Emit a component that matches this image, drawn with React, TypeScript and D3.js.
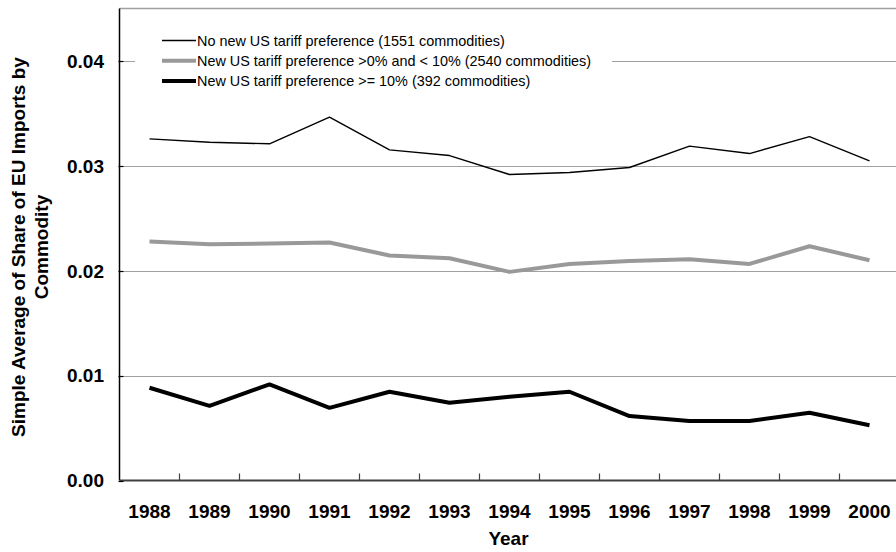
import React from "react";
import * as d3 from "d3";

const years = ["1988","1989","1990","1991","1992","1993","1994","1995","1996","1997","1998","1999","2000"];
const noPref = [0.03257,0.03225,0.0321,0.03464,0.03152,0.03098,0.02917,0.02936,0.02984,0.03188,0.03117,0.03279,0.03048];
const smallPref = [0.02278,0.02252,0.02259,0.02269,0.02145,0.02119,0.01989,0.02065,0.02093,0.0211,0.02065,0.02233,0.021];
const bigPref = [0.00884,0.00712,0.00916,0.00693,0.00846,0.00741,0.00798,0.00846,0.00614,0.00567,0.00567,0.00646,0.00526];
const yTicks = [0, 0.01, 0.02, 0.03, 0.04];
const yTickLabels = ["0.00", "0.01", "0.02", "0.03", "0.04"];
const legendLabels = [
  "No new US tariff preference (1551 commodities)",
  "New US tariff preference >0% and < 10% (2540 commodities)",
  "New US tariff preference >= 10% (392 commodities)",
];

const W = 896, H = 552;
const L = 119.5, R = 899.5, T = 8.5, B = 480.5;
const FONT = "'Liberation Sans', Arial, Helvetica, sans-serif";

export default function App() {
  const x = d3.scaleBand<string>().domain(years).range([L, R]).padding(0);
  const y = d3.scaleLinear().domain([0, 0.045]).range([B, T]);
  const cx = (d: string) => (x(d) as number) + x.bandwidth() / 2;
  const line = d3.line<number>().x((_, i) => cx(years[i])).y((v) => y(v));
  const series = [
    { data: noPref, color: "#000000", width: 1.4 },
    { data: smallPref, color: "#999999", width: 4 },
    { data: bigPref, color: "#000000", width: 4 },
  ];
  const boundaries = years.slice(1).map((yr) => x(yr) as number);
  return (
    <svg width={W} height={H} style={{ position: "absolute", left: 0, top: 0, background: "#fff" }}>
      <rect x={0} y={0} width={W} height={H} fill="#fff" />
      {yTicks.slice(1).map((t) => (
        <line key={t} x1={L} x2={R} y1={Math.round(y(t)) + 0.5} y2={Math.round(y(t)) + 0.5} stroke="#a0a0a0" strokeWidth={1} />
      ))}
      <line x1={L} x2={R} y1={T} y2={T} stroke="#a0a0a0" strokeWidth={1.5} />
      <rect x={135} y={26} width={477} height={68} fill="#fff" />
      {series.map((s, i) => (
        <path key={i} d={line(s.data) as string} fill="none" stroke={s.color} strokeWidth={s.width} strokeLinejoin="round" />
      ))}
      <line x1={L} x2={L} y1={T} y2={B} stroke="#000" strokeWidth={1.5} />
      <line x1={L} x2={R} y1={B} y2={B} stroke="#404040" strokeWidth={2} />
      {boundaries.map((bx, i) => (
        <line key={i} x1={bx} x2={bx} y1={B} y2={B - 7} stroke="#404040" strokeWidth={1.2} />
      ))}
      {yTicks.map((t) => (
        <line key={"yt" + t} x1={L - 1} x2={L + 4} y1={Math.round(y(t)) + 0.5} y2={Math.round(y(t)) + 0.5} stroke="#000" strokeWidth={1.2} />
      ))}
      {yTicks.map((t, i) => (
        <text key={"yl" + t} x={104} y={y(t)} dy="0.36em" textAnchor="end" fontFamily={FONT} fontWeight="bold" fontSize={19} fill="#000">
          {yTickLabels[i]}
        </text>
      ))}
      {years.map((yr) => (
        <text key={yr} x={cx(yr)} y={518} textAnchor="middle" fontFamily={FONT} fontWeight="bold" fontSize={19} fill="#000">
          {yr}
        </text>
      ))}
      <text x={(L + R) / 2 - 1} y={545} textAnchor="middle" fontFamily={FONT} fontWeight="bold" fontSize={19} fill="#000">Year</text>
      <g transform="translate(0,247) rotate(-90)">
        <text x={0} y={25} textAnchor="middle" fontFamily={FONT} fontWeight="bold" fontSize={19} fill="#000">Simple Average of Share of EU Imports by</text>
        <text x={0} y={48} textAnchor="middle" fontFamily={FONT} fontWeight="bold" fontSize={19} fill="#000">Commodity</text>
      </g>
      {legendLabels.map((lab, i) => {
        const ly = 40.5 + i * 20.3;
        const s = series[i];
        return (
          <g key={lab}>
            <line x1={162} x2={196} y1={ly} y2={ly} stroke={s.color} strokeWidth={s.width} />
            <text x={197} y={ly + 5} fontFamily={FONT} fontSize={14.4} fill="#000">{lab}</text>
          </g>
        );
      })}
    </svg>
  );
}
